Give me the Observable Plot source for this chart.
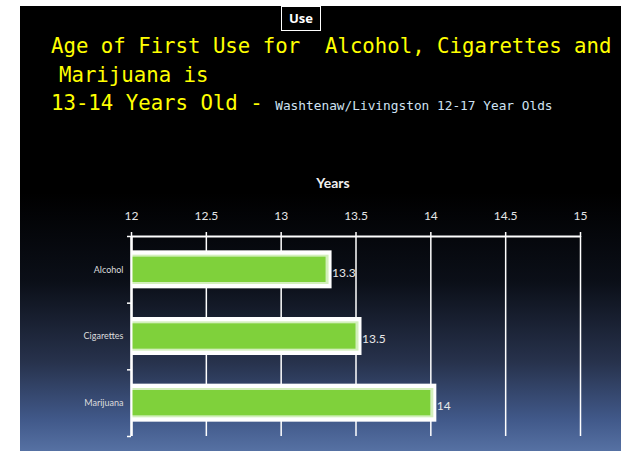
<!DOCTYPE html>
<html>
<head>
<meta charset="utf-8">
<script src="https://cdn.jsdelivr.net/npm/d3@7"></script>
<script src="https://cdn.jsdelivr.net/npm/@observablehq/plot@0.6"></script>
<style>
  html, body { margin: 0; padding: 0; background: #ffffff; width: 632px; height: 451px; overflow: hidden; }
  #slide { position: absolute; left: 20px; top: 6px; width: 601px; height: 445px;
    background: linear-gradient(to bottom, #000000 0%, #000000 42%, #0b0f18 62%, #27324c 80%, #41598a 93%, #5671a3 100%); }
  .t { position: absolute; font-family: "DejaVu Sans Mono", "Liberation Mono", monospace; font-size: 20.7px; line-height: 20px; color: #ffff00; white-space: pre; }
  .sub { font-size: 12.8px; color: #cfe2f2; }
  #use { position: absolute; left: 281px; top: 6px; width: 38px; height: 23px; border: 1.5px solid #ffffff; background: #000;
    color: #fff; font-family: "Open Sans", Lato, sans-serif; font-weight: bold; font-size: 13px; text-align: center; line-height: 23px; }
  #chart { position: absolute; left: 20px; top: 160px; }
</style>
</head>
<body>
<div id="slide"></div>
<div id="use">Use</div>
<div class="t" style="left:51px; top:36px;">Age of First Use for  Alcohol, Cigarettes and</div>
<div class="t" style="left:59px; top:65px;">Marijuana is</div>
<div class="t" style="left:51px; top:93px;">13-14 Years Old - <span class="sub">Washtenaw/Livingston 12-17 Year Olds</span></div>
<div id="chart"></div>
<script>
const categories = ["Alcohol", "Cigarettes", "Marijuana"];
const values = [13.3, 13.5, 14];
const xTicks = [12, 12.5, 13, 13.5, 14, 14.5, 15];
const axisTitle = "Years";

const rows = categories.map((c, i) => ({c, v: values[i], pos: i + 0.5}));

const plot = Plot.plot({
  width: 601,
  height: 291,
  marginLeft: 111,
  marginRight: 41,
  marginTop: 76,
  marginBottom: 15,
  style: {background: "transparent", color: "white", fontFamily: "Lato, 'Open Sans', sans-serif", overflow: "visible"},
  x: {domain: [12, 15]},
  y: {domain: [0, 3], reverse: true},
  marks: [
    Plot.gridX(xTicks, {stroke: "white", strokeOpacity: 1, strokeWidth: 1.5}),
    Plot.axisX(xTicks, {anchor: "top", tickSize: 5, tickPadding: 12, fontSize: 12, fill: "#e6e6e6", stroke: "white", strokeWidth: 1.5, tickFormat: d => String(d), label: null}),
    Plot.ruleY([0], {stroke: "white", strokeWidth: 2}),
    Plot.ruleX([12], {stroke: "white", strokeWidth: 2}),
    Plot.axisY([0.5, 1.5, 2.5], {tickSize: 0, tickPadding: 8, fontSize: 9, fill: "#dcdcdc", tickFormat: d => categories[Math.floor(d)], label: null}),
    Plot.axisY([0, 1, 2, 3], {tickSize: 4, stroke: "white", strokeWidth: 1.5, tickFormat: () => "", label: null}),
    Plot.rect(rows, {x1: 12, x2: "v", y1: d => d.pos - 0.285, y2: d => d.pos + 0.285, fill: "#ffffff", insetRight: -6}),
    Plot.rect(rows, {x1: 12, x2: "v", y1: d => d.pos - 0.22, y2: d => d.pos + 0.22, fill: "#d3efbd", insetRight: -3}),
    Plot.rect(rows, {x1: 12, x2: "v", y1: d => d.pos - 0.19, y2: d => d.pos + 0.19, fill: "#7fd13b"}),
    Plot.ruleX([12], {stroke: "white", strokeWidth: 2}),
    Plot.text(rows, {x: "v", y: "pos", text: d => String(d.v), textAnchor: "start", dx: 6, dy: 3, fill: "#e8e8e8", fontSize: 12}),
    Plot.text([axisTitle], {frameAnchor: "top", dy: -58, dx: -23, fontWeight: "bold", fontSize: 14, fill: "#f0f0f0"})
  ]
});
document.getElementById("chart").appendChild(plot);
</script>
</body>
</html>
